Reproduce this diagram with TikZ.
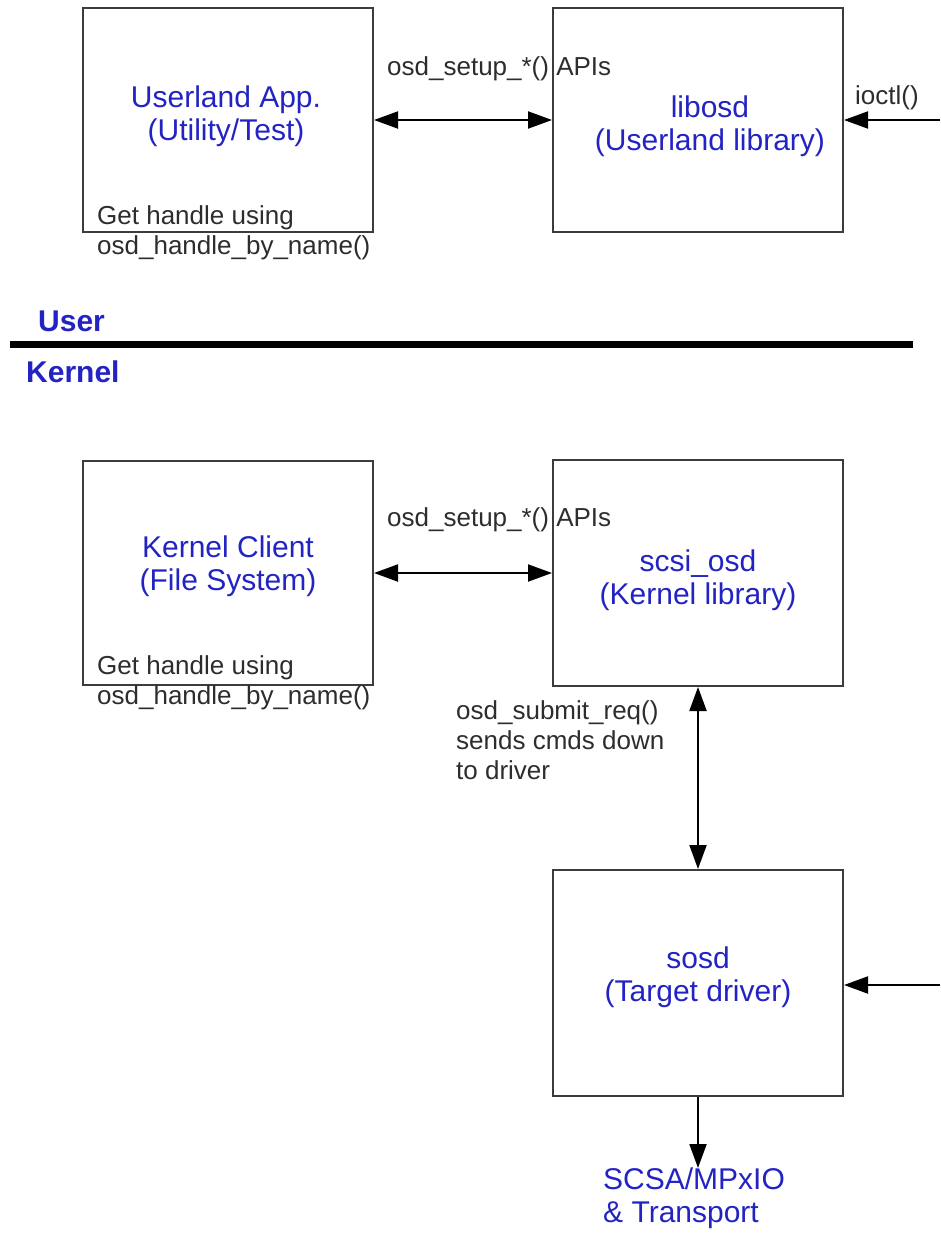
\documentclass[tikz,border=0pt]{standalone}
\usepackage{fontspec}
\setmainfont{Liberation Sans}
\usetikzlibrary{arrows.meta}
\definecolor{lblue}{RGB}{35,35,195}
\definecolor{lgray}{RGB}{45,45,45}
\definecolor{bline}{RGB}{60,60,60}
\tikzset{
  x=1pt,y=-1pt,
  box/.style={draw=bline,line width=2pt,minimum width=290pt,minimum height=224pt,inner sep=0pt},
  boxtext/.style={text=lblue,font=\fontsize{30}{33}\selectfont,align=center,inner sep=0pt},
  lbl/.style={text=lgray,font=\fontsize{26}{30}\selectfont,align=left,inner sep=0pt,anchor=west},
  layer/.style={text=lblue,font=\fontsize{30}{33}\selectfont\bfseries,inner sep=0pt,anchor=west},
  tip/.style={Triangle[length=24pt,width=17pt]},
  conn/.style={line width=2pt,-{Triangle[length=24pt,width=17pt]}},
  biconn/.style={line width=2pt,{Triangle[length=24pt,width=17pt]}-{Triangle[length=24pt,width=17pt]}},
}
\begin{document}
\begin{tikzpicture}
\useasboundingbox (0,0) rectangle (940,1239);
% boxes
\node[box] (ua) at (228,120) {};
\node[box] (lib) at (698,120) {};
\node[box] (kc) at (228,573) {};
\node[box,minimum height=226pt] (so) at (698,573) {};
\node[box,minimum height=226pt] (sd) at (698,983) {};
% box texts
\node[boxtext] (uat) at (226,116) {Userland App.\\(Utility/Test)};
\node[boxtext] (libt) at (710,126) {libosd\\(Userland library)};
\node[boxtext] (kct) at (228,566) {Kernel Client\\(File System)};
\node[boxtext] (sot) at (698,580) {scsi\_osd\\(Kernel library)};
\node[boxtext] (sdt) at (698,977) {sosd\\(Target driver)};
% labels
\node[lbl] (setup1) at (387,69) {osd\_setup\_*() APIs};
\node[lbl] (ioctl) at (855,98) {ioctl()};
\node[lbl] (get1) at (97,233) {Get handle using\\osd\_handle\_by\_name()};
\node[lbl] (setup2) at (387,520) {osd\_setup\_*() APIs};
\node[lbl] (get2) at (97,683) {Get handle using\\osd\_handle\_by\_name()};
\node[lbl] (submit) at (456,740) {osd\_submit\_req()\\sends cmds down\\to driver};
\node[boxtext,anchor=north west,align=left] (scsa) at (603,1168) {SCSA/MPxIO\\\& Transport};
% layers
\node[layer] (user) at (38,321) {User};
\node[layer] (kernel) at (26,372) {Kernel};
\coordinate (sepL) at (10,344);
\coordinate (sepR) at (913,344);
\draw[line width=7pt] (sepL) -- (sepR);
% connectors
\coordinate (ioin) at (940,120);
\coordinate (drin) at (940,985);
\draw[biconn] (ua.east) -- (lib.west);
\draw[biconn] (kc.east) -- (so.west);
\draw[conn] (ioin) -- (lib.east);
\draw[conn] (drin) -- (sd.east |- drin);
\draw[biconn] (so.south) -- (sd.north);
\draw[conn] (sd.south) -- (sd.south |- scsa.north);
\end{tikzpicture}
\end{document}
